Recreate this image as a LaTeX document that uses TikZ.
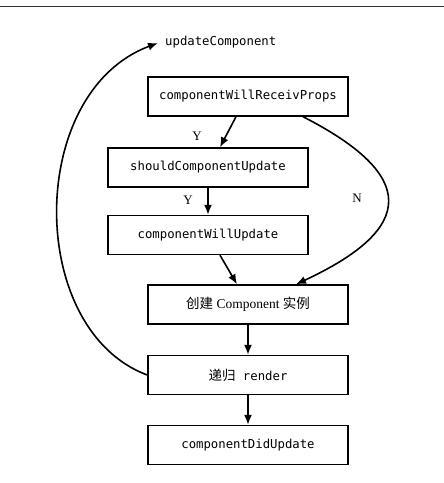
\documentclass[tikz,border=0pt]{standalone}
\usepackage{fontspec}
\setmainfont{Liberation Serif}
\setmonofont{DejaVu Sans Mono}
\newfontfamily\cjk{Noto Sans CJK SC}
\usetikzlibrary{arrows.meta}
\tikzset{
  box/.style={draw, line width=1.4pt, minimum width=200pt, minimum height=39pt, inner sep=0pt, font=\fontsize{12.3}{14}\ttfamily},
  arr/.style={line width=1.6pt, -{Latex[length=10pt,width=8pt]}},
  lbl/.style={font=\fontsize{13}{15}\selectfont},
}
\begin{document}
\begin{tikzpicture}[x=1pt,y=-1pt]
\useasboundingbox (0,0) rectangle (444,483);
\draw[line width=1pt, black!80] (0,6) -- (444,6);
\node[anchor=west, font=\fontsize{12.3}{14}\ttfamily, inner sep=0pt] (uc) at (165,42) {updateComponent};
\coordinate (uctip) at (158,43);
\node[box] (b1) at (248,96.5) {componentWillReceivProps};
\node[box] (b2) at (208,167.5) {shouldComponentUpdate};
\node[box] (b3) at (208,235) {componentWillUpdate};
\node[box, font=\fontsize{13.5}{15}\selectfont] (b4) at (248,304.5) {{\cjk 创建} Component {\cjk 实例}};
\node[box] (b5) at (248,375) {{\cjk\fontsize{13.5}{15}\selectfont 递归} render};
\node[box] (b6) at (248,445) {componentDidUpdate};

\draw[arr] ([xshift=-12pt]b1.south) -- ([xshift=12pt]b2.north);
\node[lbl] (y1) at (197,136) {Y};
\draw[arr] (b2.south) -- (b3.north);
\node[lbl] (y2) at (188,200) {Y};
\draw[arr] ([xshift=12pt]b3.south) -- ([xshift=-11pt]b4.north);
\draw[arr] ([xshift=55pt]b1.south) .. controls (417,175) and (417,228) .. ([xshift=48pt]b4.north);
\node[lbl] (n) at (357,198) {N};
\draw[arr] (b4.south) -- (b5.north);
\draw[arr] (b5.south) -- (b6.north);
\draw[arr] (b5.west) .. controls (26,330) and (26,92) .. (uctip);
\end{tikzpicture}
\end{document}
